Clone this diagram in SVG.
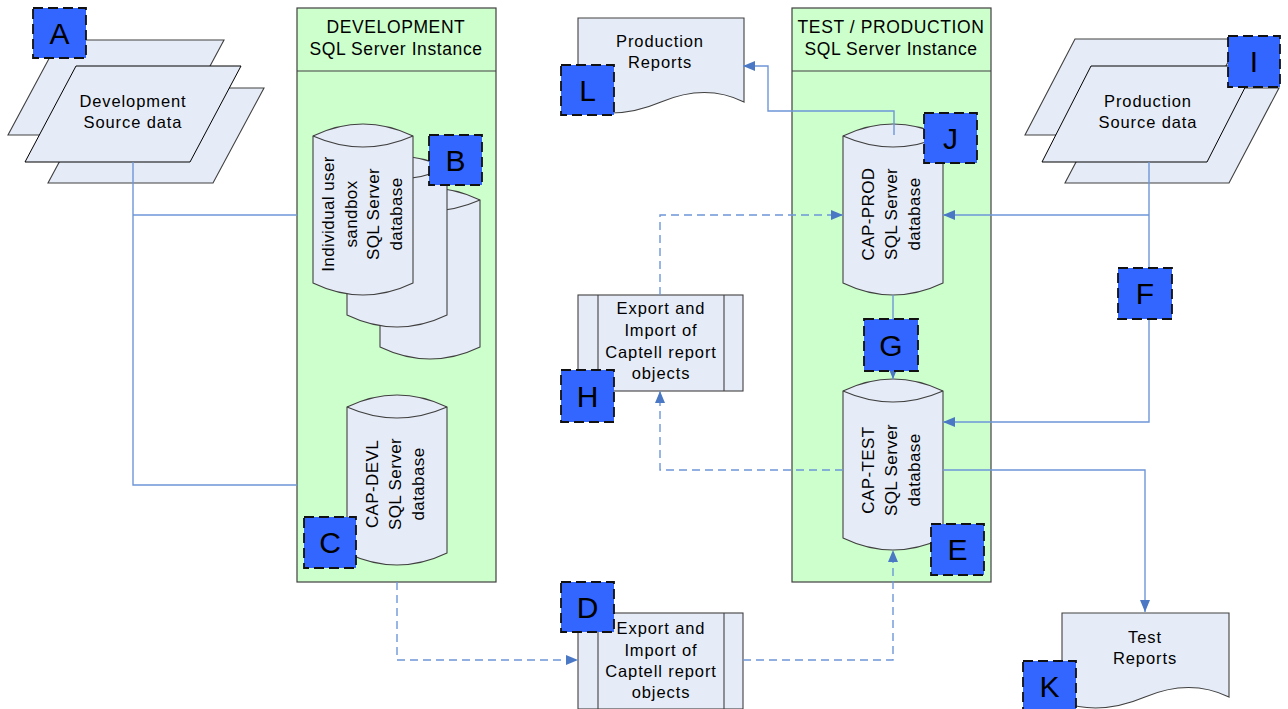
<svg xmlns="http://www.w3.org/2000/svg" width="1288" height="709" viewBox="0 0 1288 709">
<defs>
<style>
.bg{fill:#ffffff}
.inst{fill:#ccffcc;stroke:#404040;stroke-width:1.2}
.shp{fill:#e6ecf7;stroke:#404040;stroke-width:1.1}
.shp2{fill:#e6ecf7;stroke:#000;stroke-width:1}
.ln{fill:none;stroke:#404040;stroke-width:1.1}
.t{font-family:"Liberation Sans",Arial,sans-serif;font-size:16.5px;letter-spacing:0.9px;fill:#000;text-anchor:middle}
.h{font-family:"Liberation Sans",Arial,sans-serif;font-size:17.5px;letter-spacing:0.6px;fill:#000;text-anchor:middle}
.r{font-family:"Liberation Sans",Arial,sans-serif;font-size:17px;letter-spacing:0.4px;fill:#000;text-anchor:middle}
.sq{fill:#3366ff;stroke:#111;stroke-width:1.8;stroke-dasharray:10 5}
.lt{font-family:"Liberation Sans",Arial,sans-serif;font-size:30px;fill:#000;text-anchor:middle}
.c{fill:none;stroke:#6e96d8;stroke-width:1.4}
.cd{fill:none;stroke:#6e96d8;stroke-width:1.4;stroke-dasharray:8 5}
</style>
<marker id="arr" viewBox="0 0 12 10" refX="12" refY="5" markerWidth="12" markerHeight="10" markerUnits="userSpaceOnUse" orient="auto">
<path d="M0,0 L12,5 L0,10 Z" fill="#4a78c4"/>
</marker>
</defs>
<rect class="bg" x="0" y="0" width="1288" height="709"/>

<g id="dev-instance">
<rect class="inst" x="297" y="8" width="199" height="574"/>
<line class="ln" x1="297" y1="71" x2="496" y2="71"/>
<text class="h" x="396" y="33">DEVELOPMENT</text>
<text class="h" x="396" y="55">SQL Server Instance</text>
</g>

<g id="test-prod-instance">
<rect class="inst" x="792" y="8" width="199" height="574"/>
<line class="ln" x1="792" y1="71" x2="991" y2="71"/>
<text class="h" x="891" y="33">TEST / PRODUCTION</text>
<text class="h" x="891" y="55">SQL Server Instance</text>
</g>

<g id="dev-source">
<path class="shp" d="M59,40 H224 L173,135 H8 Z"/>
<path class="shp" d="M99,88 H264 L213,183 H48 Z"/>
<path class="shp2" d="M76,66 H241 L190,162 H25 Z"/>
<text class="t" x="133" y="107">Development</text>
<text class="t" x="133" y="128">Source data</text>
</g>

<g id="prod-source">
<path class="shp" d="M1075,39 H1240 L1190,135 H1025 Z"/>
<path class="shp" d="M1115,88 H1279 L1229,183 H1065 Z"/>
<path class="shp2" d="M1091,66 H1256 L1207,162 H1042 Z"/>
<text class="t" x="1148" y="107">Production</text>
<text class="t" x="1148" y="128">Source data</text>
</g>

<g id="sandbox-db">
<path class="shp" d="M380,200 Q430,176 480,200 V347 Q430,371 380,347 Z"/>
<path class="ln" d="M380,200 Q430,222 480,200"/>
<path class="shp" d="M347,168 Q397,144 447,168 V315 Q397,339 347,315 Z"/>
<path class="ln" d="M347,168 Q397,190 447,168"/>
<path class="shp" d="M313,136 Q363,112 413,136 V283 Q363,307 313,283 Z"/>
<path class="ln" d="M313,136 Q363,158 413,136"/>
<text class="r" transform="translate(362,214) rotate(-90)"><tspan x="0" y="-28">Individual user</tspan><tspan x="0" y="-5">sandbox</tspan><tspan x="0" y="17">SQL Server</tspan><tspan x="0" y="40">database</tspan></text>
</g>

<g id="cap-devl">
<path class="shp" d="M347,407 Q397,383 447,407 V553 Q397,577 347,553 Z"/>
<path class="ln" d="M347,407 Q397,429 447,407"/>
<text class="r" transform="translate(395,484) rotate(-90)"><tspan x="0" y="-17">CAP-DEVL</tspan><tspan x="0" y="6">SQL Server</tspan><tspan x="0" y="29">database</tspan></text>
</g>

<g id="cap-prod">
<path class="shp" d="M843,136 Q893,112 943,136 V283 Q893,307 843,283 Z"/>
<path class="ln" d="M843,136 Q893,158 943,136"/>
<text class="r" transform="translate(891,214) rotate(-90)"><tspan x="0" y="-17">CAP-PROD</tspan><tspan x="0" y="6">SQL Server</tspan><tspan x="0" y="29">database</tspan></text>
</g>

<g id="cap-test">
<path class="shp" d="M843,391 Q893,367 943,391 V538 Q893,562 843,538 Z"/>
<path class="ln" d="M843,391 Q893,413 943,391"/>
<text class="r" transform="translate(891,470) rotate(-90)"><tspan x="0" y="-17">CAP-TEST</tspan><tspan x="0" y="6">SQL Server</tspan><tspan x="0" y="29">database</tspan></text>
</g>

<g id="production-reports">
<path class="shp" d="M578,18 H744 V102 Q706,83 661,102 Q616,121 578,107 Z"/>
<text class="t" x="660" y="47">Production</text>
<text class="t" x="660" y="68">Reports</text>
</g>

<g id="test-reports">
<path class="shp" d="M1062,613 H1229 V697 Q1190,678 1145,697 Q1100,716 1062,702 Z"/>
<text class="t" x="1145" y="643">Test</text>
<text class="t" x="1145" y="664">Reports</text>
</g>

<g id="export-import-upper">
<rect class="shp" x="578" y="295" width="165" height="96"/>
<line class="ln" x1="598" y1="295" x2="598" y2="391"/>
<line class="ln" x1="724" y1="295" x2="724" y2="391"/>
<text class="t" x="661" y="314">Export and</text>
<text class="t" x="661" y="336">Import of</text>
<text class="t" x="661" y="358">Captell report</text>
<text class="t" x="661" y="379">objects</text>
</g>

<g id="export-import-lower">
<rect class="shp" x="578" y="613" width="165" height="96"/>
<line class="ln" x1="598" y1="613" x2="598" y2="709"/>
<line class="ln" x1="724" y1="613" x2="724" y2="709"/>
<text class="t" x="661" y="634">Export and</text>
<text class="t" x="661" y="656">Import of</text>
<text class="t" x="661" y="677">Captell report</text>
<text class="t" x="661" y="698">objects</text>
</g>

<g id="connectors">
<path class="c" d="M133,162 V485 H297"/>
<path class="c" d="M133,215 H297"/>
<path class="c" d="M1149,162 V422 H943" marker-end="url(#arr)"/>
<path class="c" d="M1149,215 H943" marker-end="url(#arr)"/>
<path class="c" d="M894,135 V111 H768 V66 H743" marker-end="url(#arr)"/>
<path class="c" d="M893,295 V379" marker-end="url(#arr)"/>
<path class="c" d="M943,470 H1145 V612" marker-end="url(#arr)"/>
<path class="cd" d="M843,470 H660 V391" marker-end="url(#arr)"/>
<path class="cd" d="M660,295 V215 H843" marker-end="url(#arr)"/>
<path class="cd" d="M397,582 V660 H578" marker-end="url(#arr)"/>
<path class="cd" d="M743,660 H893 V550" marker-end="url(#arr)"/>
</g>

<g id="label-A"><rect class="sq" x="33" y="8" width="53" height="50"/><text class="lt" x="59.5" y="44">A</text></g>
<g id="label-B"><rect class="sq" x="429" y="135" width="53" height="50"/><text class="lt" x="455.5" y="171">B</text></g>
<g id="label-C"><rect class="sq" x="304" y="517" width="52" height="51"/><text class="lt" x="330" y="553">C</text></g>
<g id="label-D"><rect class="sq" x="561" y="582" width="53" height="50"/><text class="lt" x="587.5" y="618">D</text></g>
<g id="label-E"><rect class="sq" x="931" y="524" width="53" height="51"/><text class="lt" x="957.5" y="560">E</text></g>
<g id="label-F"><rect class="sq" x="1118" y="268" width="54" height="51"/><text class="lt" x="1145" y="304">F</text></g>
<g id="label-G"><rect class="sq" x="864" y="319" width="54" height="52"/><text class="lt" x="891" y="356">G</text></g>
<g id="label-H"><rect class="sq" x="561" y="370" width="53" height="52"/><text class="lt" x="587.5" y="407">H</text></g>
<g id="label-I"><rect class="sq" x="1228" y="36" width="52" height="51"/><text class="lt" x="1254" y="72">I</text></g>
<g id="label-J"><rect class="sq" x="924" y="113" width="53" height="50"/><text class="lt" x="950.5" y="149">J</text></g>
<g id="label-K"><rect class="sq" x="1023" y="661" width="53" height="50"/><text class="lt" x="1049.5" y="697">K</text></g>
<g id="label-L"><rect class="sq" x="561" y="65" width="53" height="50"/><text class="lt" x="587.5" y="101">L</text></g>
</svg>
